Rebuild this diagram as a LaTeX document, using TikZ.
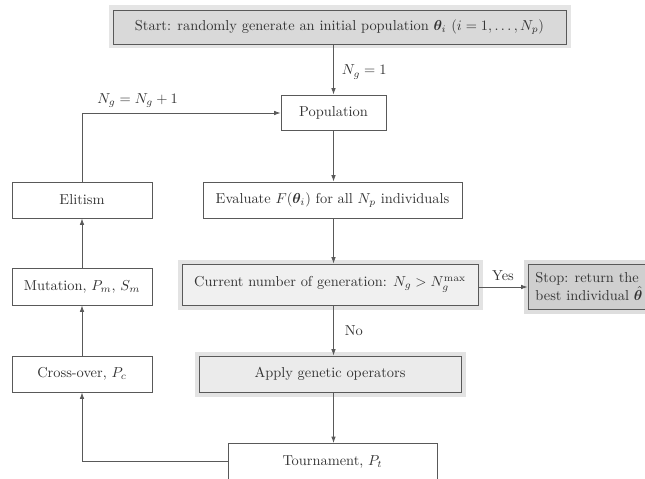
\documentclass[tikz,border=0pt]{standalone}
\usepackage{amsmath,bm}
\usetikzlibrary{arrows.meta}
\newdimen\px \px=0.6944pt
\definecolor{linec}{gray}{0.35}
\definecolor{textc}{gray}{0.2}
\begin{document}
\begin{tikzpicture}[x=0.6944pt,y=-0.6944pt,
  box/.style={draw=linec, fill=white, text=textc, line width=0.6pt, inner sep=0pt, minimum height=36\px},
  halo/.style={preaction={draw=#1, line width=9\px}},
  conn/.style={draw=linec, line width=0.6pt},
  arr/.style={conn, -{Latex[length=4.5pt,width=3.2pt]}},
  lbl/.style={text=textc, inner sep=0pt}]
\useasboundingbox (0,0) rectangle (645,478);
\clip (0,0) rectangle (645,478);
% nodes
\node[box, halo=black!10, fill=black!15, minimum width=453\px, minimum height=34\px] (start) at (339.5,27)
  {Start: randomly generate an initial population $\bm{\theta}_i$ $(i=1,\ldots,N_p)$};
\node[box, minimum width=105\px, minimum height=35\px] (pop) at (333.5,112.5) {Population};
\node[box, minimum width=140\px] (elit) at (82,200) {Elitism};
\node[box, minimum width=259\px] (eval) at (332.5,200) {Evaluate $F(\bm{\theta}_i)$ for all $N_p$ individuals};
\node[box, halo=black!11, fill=black!6, minimum width=296\px, minimum height=41\px] (cur) at (330,284.5)
  {Current number of generation: $N_g > N_g^{\max}$};
\node[box, halo=black!13, fill=black!19, minimum width=122\px, minimum height=45\px, align=left] (stop) at (589,286.5)
  {Stop: return the\\ best individual $\hat{\bm{\theta}}$};
\node[box, minimum width=140\px, minimum height=37\px] (mut) at (82,286.5) {Mutation, $P_m$, $S_m$};
\node[box, minimum width=140\px] (cross) at (82,374) {Cross-over, $P_c$};
\node[box, halo=black!11, fill=black!8, minimum width=262\px] (apply) at (330,374) {Apply genetic operators};
\node[box, minimum width=209\px] (tour) at (332.5,461.5) {Tournament, $P_t$};
% connectors
\draw[arr] (start.south -| pop) -- node[lbl, right=8\px, pos=0.55] {$N_g=1$} (pop);
\draw[arr] (pop) -- (pop |- eval.north);
\draw[arr] (pop |- eval.south) -- (pop |- cur.north);
\draw[arr] (cur.east |- 0,287) -- node[lbl, above=6\px] {Yes} (stop.west |- 0,287);
\draw[arr] (pop |- cur.south) -- node[lbl, right=11\px] {No} (pop |- apply.north);
\draw[arr] (pop |- apply.south) -- (pop |- tour.north);
\draw[arr] (tour.west) -| (cross.south);
\draw[arr] (cross) -- (mut);
\draw[arr] (mut) -- (elit);
\coordinate (corner) at (82,113);
\draw[arr] (elit.north) -- (corner) -- node[lbl, above=5\px, pos=0.28] {$N_g=N_g+1$} (pop.west |- corner);
\end{tikzpicture}
\end{document}
